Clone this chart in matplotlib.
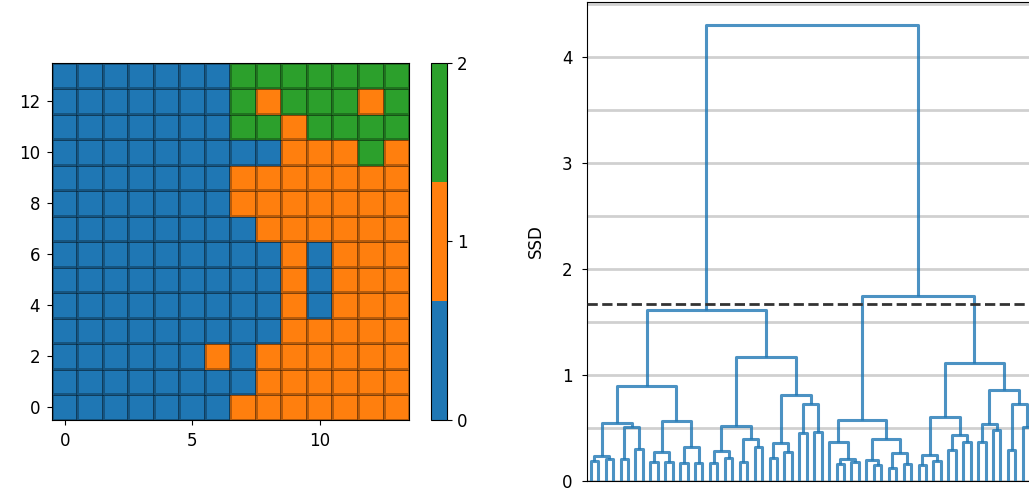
import matplotlib
matplotlib.use("Agg")
import matplotlib.pyplot as plt
from matplotlib.colors import ListedColormap
import numpy as np

plt.rcParams["font.size"] = 12

# cluster id for every node of the 14x14 som, first list is the bottom row (y=0)
som_clusters = [
    [0, 0, 0, 0, 0, 0, 0, 1, 1, 1, 1, 1, 1, 1],
    [0, 0, 0, 0, 0, 0, 0, 0, 1, 1, 1, 1, 1, 1],
    [0, 0, 0, 0, 0, 0, 1, 0, 1, 1, 1, 1, 1, 1],
    [0, 0, 0, 0, 0, 0, 0, 0, 0, 1, 1, 1, 1, 1],
    [0, 0, 0, 0, 0, 0, 0, 0, 0, 1, 0, 1, 1, 1],
    [0, 0, 0, 0, 0, 0, 0, 0, 0, 1, 0, 1, 1, 1],
    [0, 0, 0, 0, 0, 0, 0, 0, 0, 1, 0, 1, 1, 1],
    [0, 0, 0, 0, 0, 0, 0, 0, 1, 1, 1, 1, 1, 1],
    [0, 0, 0, 0, 0, 0, 0, 1, 1, 1, 1, 1, 1, 1],
    [0, 0, 0, 0, 0, 0, 0, 1, 1, 1, 1, 1, 1, 1],
    [0, 0, 0, 0, 0, 0, 0, 0, 0, 1, 1, 1, 2, 1],
    [0, 0, 0, 0, 0, 0, 0, 2, 2, 1, 2, 2, 2, 2],
    [0, 0, 0, 0, 0, 0, 0, 2, 1, 2, 2, 2, 1, 2],
    [0, 0, 0, 0, 0, 0, 0, 2, 2, 2, 2, 2, 2, 2],
]
cluster_colors = ["#1f77b4", "#ff7f0e", "#2ca02c"]
cluster_ticks = [0, 1, 2]

# dendrogram: internal node = (ssd, left, right), o = a leaf
o = None
cluster_a = (0.90,
             (0.55, (0.24, (0.19, o, o), (0.21, o, o)), (0.51, (0.21, o, o), (0.30, o, o))),
             (0.57, (0.27, (0.18, o, o), (0.18, o, o)), (0.32, (0.17, o, o), (0.17, o, o))))
cluster_d = (1.17,
             (0.52, (0.285, (0.17, o, o), (0.22, o, o)), (0.40, (0.18, o, o), (0.32, o, o))),
             (0.81, (0.355, (0.22, o, o), (0.275, o, o)), (0.73, (0.45, o, o), (0.46, o, o))))
cluster_e = (0.575,
             (0.37, o, (0.205, (0.16, o, o), (0.18, o, o))),
             (0.40, (0.20, o, (0.15, o, o)), (0.26, (0.12, o, o), (0.16, o, o))))
cluster_f = (1.11,
             (0.605, (0.245, (0.15, o, o), (0.19, o, o)), (0.43, (0.29, o, o), (0.37, o, o))),
             (0.86, (0.54, (0.37, o, o), (0.48, o, o)), (0.73, (0.29, o, o), (0.51, o, o))))
root_ssd = 4.30
left_ssd = 1.61
right_ssd = 1.74
cut_ssd = 1.67

tree = (root_ssd, (left_ssd, cluster_a, cluster_d), (right_ssd, cluster_e, cluster_f))

fig = plt.figure(figsize=(10.29, 4.94), dpi=100)

# som cluster map
ax_som = fig.add_axes([0.0505, 0.1498, 0.347, 0.7227])
ax_cb = fig.add_axes([0.4189, 0.1498, 0.0155, 0.7227])
grid = np.array(som_clusters)
n_rows, n_cols = grid.shape
cmap = ListedColormap(cluster_colors)
mesh = ax_som.pcolormesh(np.arange(n_cols + 1) - 0.5, np.arange(n_rows + 1) - 0.5, grid,
                         cmap=cmap, vmin=0, vmax=2,
                         edgecolors=(0, 0, 0, 0.28), linewidth=1.0)
ax_som.set_aspect("equal")
ax_som.set_xlim(-0.5, n_cols - 0.5)
ax_som.set_ylim(-0.5, n_rows - 0.5)
ax_som.set_xticks([0, 5, 10])
ax_som.set_yticks(range(0, n_rows, 2))
ax_som.tick_params(axis="both", pad=5)
cb = fig.colorbar(mesh, cax=ax_cb)
cb.set_ticks(cluster_ticks)

# dendrogram
ax_den = fig.add_axes([587 / 1029, 13 / 494, 447 / 1029, 479 / 494])
leaf_count = [0]


def draw_node(node):
    if node is None:
        x = 5 + 10 * leaf_count[0]
        leaf_count[0] += 1
        return x, 0.0
    h, left, right = node
    xl, hl = draw_node(left)
    xr, hr = draw_node(right)
    ax_den.plot([xl, xl, xr, xr], [hl, h, h, hr], color="#1f77b4", alpha=0.8,
                lw=2.2, solid_capstyle="butt", zorder=3)
    return (xl + xr) / 2, h


draw_node(tree)
ax_den.set_xlim(0, 10 * leaf_count[0])
ax_den.set_ylim(0, root_ssd * 1.05)
ax_den.set_yticks([0, 1, 2, 3, 4])
ax_den.set_yticks(np.arange(0.5, 4.6, 0.5), minor=True)
ax_den.tick_params(axis="y", which="major", pad=7)
ax_den.tick_params(axis="y", which="minor", length=0)
ax_den.set_xticks([])
ax_den.grid(axis="y", which="both", color="#d0d0d0", lw=2, zorder=0)
ax_den.set_axisbelow(True)
ax_den.axhline(cut_ssd, color="#333333", ls="--", lw=2, zorder=4)
ax_den.set_ylabel("SSD", labelpad=12)

fig.savefig("out.png", dpi=100)
